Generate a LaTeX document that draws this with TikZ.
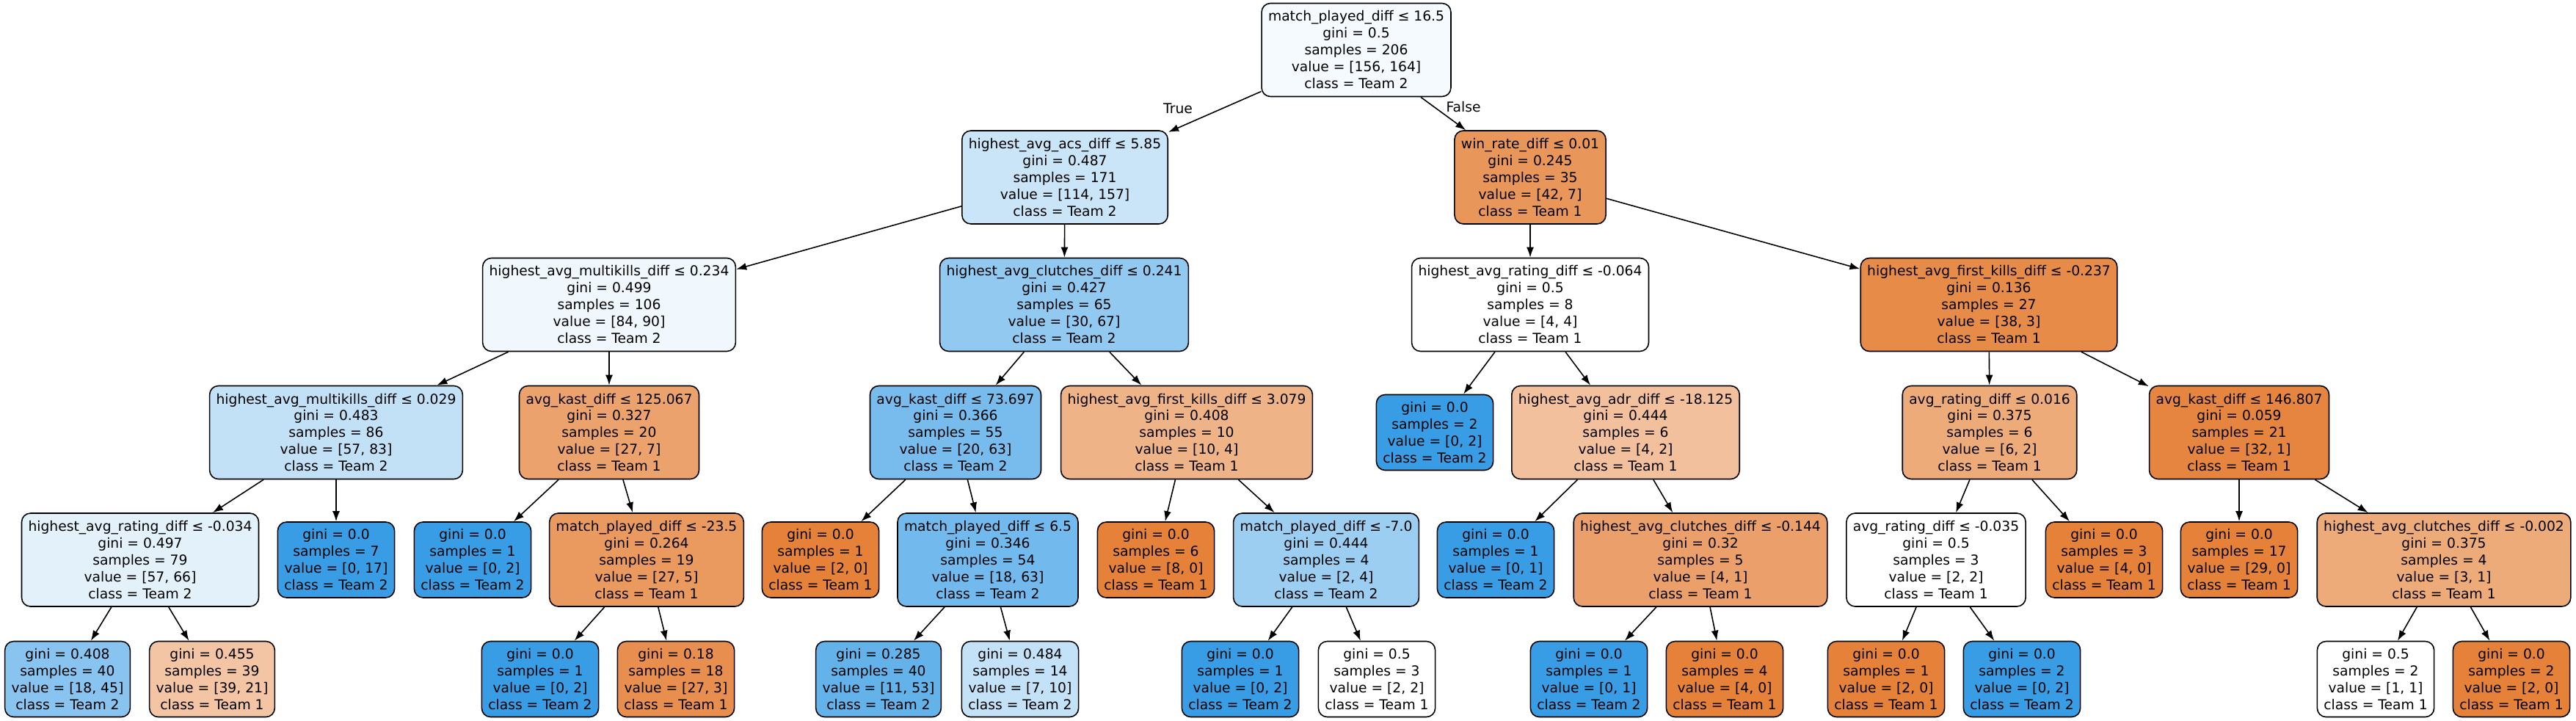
\documentclass[tikz,border=0pt]{standalone}
\usepackage{fontspec}
\setmainfont{DejaVu Sans}
\usetikzlibrary{arrows.meta}
\definecolor{teamone}{RGB}{229,129,57}
\definecolor{teamtwo}{RGB}{57,157,229}
\tikzset{
  box/.style={draw, line width=0.45pt, rounded corners=1.2mm, align=center, inner xsep=0.9mm, inner ysep=0pt, font=\fontsize{5.32pt}{6.54pt}\selectfont},
  split/.style={box, minimum height=12.7mm},
  leaf/.style={box, minimum height=10.3mm},
}
\begin{document}
\begin{tikzpicture}[line width=0.45pt, >={Latex[length=1.4mm, width=1mm]}]
        \fill[white] (0,0) rectangle (35.1,-9.82);
        \useasboundingbox (0,0) rectangle (35.1,-9.82);
        % depth 0 and 1
        \node[split, fill=teamtwo!5] (n0) at (18.48,-0.68) {match\_played\_diff ≤ 16.5\\gini = 0.5\\samples = 206\\value = [156, 164]\\class = Team 2};
        \node[split, fill=teamtwo!27] (n1) at (14.51,-2.415) {highest\_avg\_acs\_diff ≤ 5.85\\gini = 0.487\\samples = 171\\value = [114, 157]\\class = Team 2};
        \node[split, fill=teamone!83] (n24) at (20.85,-2.415) {win\_rate\_diff ≤ 0.01\\gini = 0.245\\samples = 35\\value = [42, 7]\\class = Team 1};
        % depth 2
        \node[split, fill=teamtwo!7] (n2) at (8.30,-4.15) {highest\_avg\_multikills\_diff ≤ 0.234\\gini = 0.499\\samples = 106\\value = [84, 90]\\class = Team 2};
        \node[split, fill=teamtwo!55] (n13) at (14.50,-4.15) {highest\_avg\_clutches\_diff ≤ 0.241\\gini = 0.427\\samples = 65\\value = [30, 67]\\class = Team 2};
        \node[split, fill=white] (n25) at (20.85,-4.15) {highest\_avg\_rating\_diff ≤ -0.064\\gini = 0.5\\samples = 8\\value = [4, 4]\\class = Team 1};
        \node[split, fill=teamone!92] (n32) at (27.10,-4.15) {highest\_avg\_first\_kills\_diff ≤ -0.237\\gini = 0.136\\samples = 27\\value = [38, 3]\\class = Team 1};
        % depth 3
        \node[split, fill=teamtwo!31] (n3) at (4.58,-5.89) {highest\_avg\_multikills\_diff ≤ 0.029\\gini = 0.483\\samples = 86\\value = [57, 83]\\class = Team 2};
        \node[split, fill=teamone!74] (n8) at (8.30,-5.89) {avg\_kast\_diff ≤ 125.067\\gini = 0.327\\samples = 20\\value = [27, 7]\\class = Team 1};
        \node[split, fill=teamtwo!68] (n14) at (13.02,-5.89) {avg\_kast\_diff ≤ 73.697\\gini = 0.366\\samples = 55\\value = [20, 63]\\class = Team 2};
        \node[split, fill=teamone!60] (n19) at (16.17,-5.89) {highest\_avg\_first\_kills\_diff ≤ 3.079\\gini = 0.408\\samples = 10\\value = [10, 4]\\class = Team 1};
        \node[leaf, fill=teamtwo] (n26) at (19.55,-5.89) {gini = 0.0\\samples = 2\\value = [0, 2]\\class = Team 2};
        \node[split, fill=teamone!50] (n27) at (22.15,-5.89) {highest\_avg\_adr\_diff ≤ -18.125\\gini = 0.444\\samples = 6\\value = [4, 2]\\class = Team 1};
        \node[split, fill=teamone!67] (n33) at (27.11,-5.89) {avg\_rating\_diff ≤ 0.016\\gini = 0.375\\samples = 6\\value = [6, 2]\\class = Team 1};
        \node[split, fill=teamone!97] (n38) at (30.51,-5.89) {avg\_kast\_diff ≤ 146.807\\gini = 0.059\\samples = 21\\value = [32, 1]\\class = Team 1};
        % depth 4
        \node[split, fill=teamtwo!14] (n4) at (1.91,-7.625) {highest\_avg\_rating\_diff ≤ -0.034\\gini = 0.497\\samples = 79\\value = [57, 66]\\class = Team 2};
        \node[leaf, fill=teamtwo] (n7) at (4.58,-7.625) {gini = 0.0\\samples = 7\\value = [0, 17]\\class = Team 2};
        \node[leaf, fill=teamtwo] (n9) at (6.44,-7.625) {gini = 0.0\\samples = 1\\value = [0, 2]\\class = Team 2};
        \node[split, fill=teamone!81] (n10) at (8.81,-7.625) {match\_played\_diff ≤ -23.5\\gini = 0.264\\samples = 19\\value = [27, 5]\\class = Team 1};
        \node[leaf, fill=teamone] (n15) at (11.18,-7.625) {gini = 0.0\\samples = 1\\value = [2, 0]\\class = Team 1};
        \node[split, fill=teamtwo!71] (n16) at (13.46,-7.625) {match\_played\_diff ≤ 6.5\\gini = 0.346\\samples = 54\\value = [18, 63]\\class = Team 2};
        \node[leaf, fill=teamone] (n20) at (15.75,-7.625) {gini = 0.0\\samples = 6\\value = [8, 0]\\class = Team 1};
        \node[split, fill=teamtwo!50] (n21) at (18.07,-7.625) {match\_played\_diff ≤ -7.0\\gini = 0.444\\samples = 4\\value = [2, 4]\\class = Team 2};
        \node[leaf, fill=teamtwo] (n28) at (20.38,-7.625) {gini = 0.0\\samples = 1\\value = [0, 1]\\class = Team 2};
        \node[split, fill=teamone!75] (n29) at (23.17,-7.625) {highest\_avg\_clutches\_diff ≤ -0.144\\gini = 0.32\\samples = 5\\value = [4, 1]\\class = Team 1};
        \node[split, fill=white] (n34) at (26.38,-7.625) {avg\_rating\_diff ≤ -0.035\\gini = 0.5\\samples = 3\\value = [2, 2]\\class = Team 1};
        \node[leaf, fill=teamone] (n37) at (28.67,-7.625) {gini = 0.0\\samples = 3\\value = [4, 0]\\class = Team 1};
        \node[leaf, fill=teamone] (n39) at (30.51,-7.625) {gini = 0.0\\samples = 17\\value = [29, 0]\\class = Team 1};
        \node[split, fill=teamone!67] (n40) at (33.30,-7.625) {highest\_avg\_clutches\_diff ≤ -0.002\\gini = 0.375\\samples = 4\\value = [3, 1]\\class = Team 1};
        % depth 5
        \node[leaf, fill=teamtwo!60] (n5) at (0.92,-9.25) {gini = 0.408\\samples = 40\\value = [18, 45]\\class = Team 2};
        \node[leaf, fill=teamone!46] (n6) at (2.89,-9.25) {gini = 0.455\\samples = 39\\value = [39, 21]\\class = Team 1};
        \node[leaf, fill=teamtwo] (n11) at (7.36,-9.25) {gini = 0.0\\samples = 1\\value = [0, 2]\\class = Team 2};
        \node[leaf, fill=teamone!89] (n12) at (9.21,-9.25) {gini = 0.18\\samples = 18\\value = [27, 3]\\class = Team 1};
        \node[leaf, fill=teamtwo!79] (n17) at (11.97,-9.25) {gini = 0.285\\samples = 40\\value = [11, 53]\\class = Team 2};
        \node[leaf, fill=teamtwo!30] (n18) at (13.90,-9.25) {gini = 0.484\\samples = 14\\value = [7, 10]\\class = Team 2};
        \node[leaf, fill=teamtwo] (n22) at (16.90,-9.25) {gini = 0.0\\samples = 1\\value = [0, 2]\\class = Team 2};
        \node[leaf, fill=white] (n23) at (18.76,-9.25) {gini = 0.5\\samples = 3\\value = [2, 2]\\class = Team 1};
        \node[leaf, fill=teamtwo] (n30) at (21.65,-9.25) {gini = 0.0\\samples = 1\\value = [0, 1]\\class = Team 2};
        \node[leaf, fill=teamone] (n31) at (23.50,-9.25) {gini = 0.0\\samples = 4\\value = [4, 0]\\class = Team 1};
        \node[leaf, fill=teamone] (n35) at (25.70,-9.25) {gini = 0.0\\samples = 1\\value = [2, 0]\\class = Team 1};
        \node[leaf, fill=teamtwo] (n36) at (27.55,-9.25) {gini = 0.0\\samples = 2\\value = [0, 2]\\class = Team 2};
        \node[leaf, fill=white] (n41) at (32.37,-9.25) {gini = 0.5\\samples = 2\\value = [1, 1]\\class = Team 1};
        \node[leaf, fill=teamone] (n42) at (34.22,-9.25) {gini = 0.0\\samples = 2\\value = [2, 0]\\class = Team 1};
        % edges
        \draw[->] (n0) -- (n1);
        \draw[->] (n0) -- (n24);
        \node[font=\fontsize{5.32pt}{6.54pt}\selectfont] (true) at (16.05,-1.48) {True};
        \node[font=\fontsize{5.32pt}{6.54pt}\selectfont] (false) at (19.94,-1.46) {False};
        \draw[->] (n1) -- (n2);
        \draw[->] (n1) -- (n13);
        \draw[->] (n24) -- (n25);
        \draw[->] (n24) -- (n32);
        \draw[->] (n2) -- (n3);
        \draw[->] (n2) -- (n8);
        \draw[->] (n13) -- (n14);
        \draw[->] (n13) -- (n19);
        \draw[->] (n25) -- (n26);
        \draw[->] (n25) -- (n27);
        \draw[->] (n32) -- (n33);
        \draw[->] (n32) -- (n38);
        \draw[->] (n3) -- (n4);
        \draw[->] (n3) -- (n7);
        \draw[->] (n8) -- (n9);
        \draw[->] (n8) -- (n10);
        \draw[->] (n14) -- (n15);
        \draw[->] (n14) -- (n16);
        \draw[->] (n19) -- (n20);
        \draw[->] (n19) -- (n21);
        \draw[->] (n27) -- (n28);
        \draw[->] (n27) -- (n29);
        \draw[->] (n33) -- (n34);
        \draw[->] (n33) -- (n37);
        \draw[->] (n38) -- (n39);
        \draw[->] (n38) -- (n40);
        \draw[->] (n4) -- (n5);
        \draw[->] (n4) -- (n6);
        \draw[->] (n10) -- (n11);
        \draw[->] (n10) -- (n12);
        \draw[->] (n16) -- (n17);
        \draw[->] (n16) -- (n18);
        \draw[->] (n21) -- (n22);
        \draw[->] (n21) -- (n23);
        \draw[->] (n29) -- (n30);
        \draw[->] (n29) -- (n31);
        \draw[->] (n34) -- (n35);
        \draw[->] (n34) -- (n36);
        \draw[->] (n40) -- (n41);
        \draw[->] (n40) -- (n42);
\end{tikzpicture}
\end{document}
